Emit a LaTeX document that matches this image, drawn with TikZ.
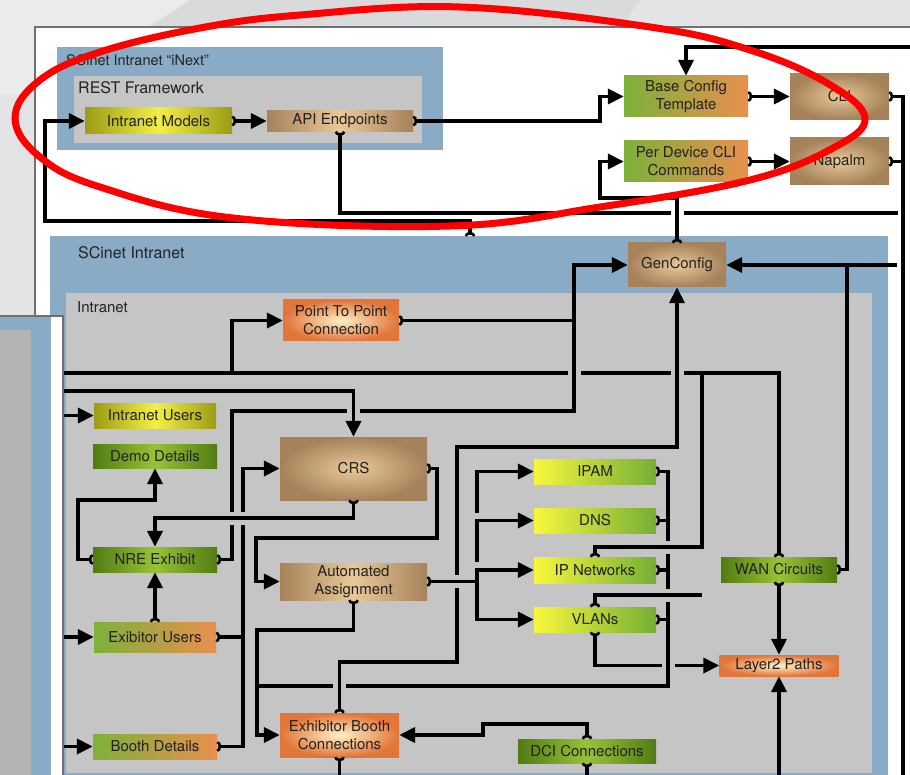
\documentclass[tikz,border=0pt]{standalone}
\usepackage{fontspec}
\setmainfont{TeX Gyre Heros}
\usetikzlibrary{arrows.meta,calc}
\definecolor{bgA}{HTML}{E2E4E6}
\definecolor{bgB}{HTML}{D8DADC}
\definecolor{bgC}{HTML}{EAEBED}
\definecolor{frm}{HTML}{707070}
\definecolor{blu}{HTML}{8AABC6}
\definecolor{gry}{HTML}{C5C5C5}
\definecolor{pgry}{HTML}{B3B3B3}
\definecolor{txt}{HTML}{222222}
\definecolor{yelE}{HTML}{9C9C16}
\definecolor{yelC}{HTML}{F3EF46}
\definecolor{grnE}{HTML}{527C12}
\definecolor{grnC}{HTML}{98C236}
\definecolor{brnE}{HTML}{A5825A}
\definecolor{brnC}{HTML}{E9C898}
\definecolor{orgE}{HTML}{E27539}
\definecolor{orgC}{HTML}{FDF1C6}
\definecolor{goL}{HTML}{7DB13A}
\definecolor{goR}{HTML}{E98F4E}
\definecolor{ygL}{HTML}{F9F73C}
\definecolor{ygR}{HTML}{74AF35}
\definecolor{redl}{HTML}{FF0000}
\newcommand\ndfont{\fontsize{15}{18}\selectfont}
\newcommand\lbfont{\fontsize{16}{19}\selectfont}
\newcommand\lbsfont{\fontsize{14.5}{17}\selectfont}
\newcommand\hgapat[3]{\fill[#3] (#1-6.5,#2-3) rectangle (#1-1.85,#2+3);\fill[#3] (#1+1.85,#2-3) rectangle (#1+6.5,#2+3);}
\newcommand\vgapat[3]{\fill[#3] (#1-3,#2-6.5) rectangle (#1+3,#2-1.85);\fill[#3] (#1-3,#2+1.85) rectangle (#1+3,#2+6.5);}
\tikzset{
  tlx/.tip={Arc Barb[reversed,width=11pt,length=4pt,line width=2.6pt]},
  hdx/.tip={Triangle[length=16pt,width=15pt]},
  box/.style={inner sep=0pt, align=center, font=\ndfont, text=txt},
  yel/.style={left color=yelE, right color=yelE, middle color=yelC},
  grn/.style={left color=grnE, right color=grnE, middle color=grnC},
  brn/.style={left color=brnE, right color=brnE, middle color=brnC},
  brr/.style={inner color=brnC, outer color=brnE},
  org/.style={inner color=orgC, outer color=orgE},
  gor/.style={left color=goL, right color=goR},
  ygr/.style={left color=ygL, right color=ygR},
  lbl/.style={inner sep=0pt, anchor=west, text=txt, font=\lbfont},
  lbls/.style={inner sep=0pt, anchor=west, text=txt, font=\lbsfont},
  conn/.style={line width=3.8pt, draw=black},
  ct/.style={conn, tlx-hdx},
  cto/.style={conn, tlx-},
  ca/.style={conn, -hdx},
}
\begin{document}
\begin{tikzpicture}[x=1pt,y=-1pt]
\useasboundingbox (0,0) rectangle (910,775);
% background
\fill[bgA] (0,0) rectangle (910,775);
\fill[bgC] (0,0) -- (190,0) -- (35,95) -- (0,95) -- cycle;
\fill[bgB] (190,0) -- (640,0) -- (620,27) -- (150,27) -- cycle;
% page
\fill[white] (35,27) rectangle (915,780);
\draw[frm, line width=2] (35,780) -- (35,27) -- (915,27);
% containers
\fill[blu] (57,47) rectangle (443,150);
\fill[gry] (74,76) rectangle (422,143);
\fill[blu] (50,236) rectangle (888,790);
\fill[gry] (66,293) rectangle (872,773);
\node[lbls] (lblA) at (66,60) {SCinet Intranet “iNext”};
\node[lbl] (lblB) at (78,88) {REST Framework};
\node[lbl] (lblC) at (78,252.5) {SCinet Intranet};
\node[lbl, font=\fontsize{15}{18}\selectfont] (lblD) at (77,307) {Intranet};
% nodes
\node[box,yel,minimum width=147,minimum height=26] (im) at (158.5,121) {Intranet Models};
\node[box,brn,minimum width=146,minimum height=21] (api) at (340,121) {API Endpoints};
\node[box,gor,minimum width=124,minimum height=41] (bct) at (686,96.5) {Base Config\\Template};
\node[box,brr,minimum width=99,minimum height=46] (cli) at (839.5,96.5) {CLI};
\node[box,gor,minimum width=124,minimum height=41] (pdc) at (686,161.5) {Per Device CLI\\Commands};
\node[box,brr,minimum width=99,minimum height=47] (nap) at (839.5,161.5) {Napalm};
\node[box,brr,minimum width=98,minimum height=44] (gen) at (677,265) {GenConfig};
\node[box,org,minimum width=116,minimum height=41] (ptp) at (341,320.5) {Point To Point\\Connection};
\node[box,yel,minimum width=122,minimum height=25] (iu) at (155,415.5) {Intranet Users};
\node[box,grn,minimum width=124,minimum height=24] (dd) at (155,456) {Demo Details};
\node[box,brr,minimum width=147,minimum height=63] (crs) at (353.5,468.5) {CRS};
\node[box,ygr,minimum width=122,minimum height=25] (ipam) at (595,471.5) {IPAM};
\node[box,ygr,minimum width=122,minimum height=25] (dns) at (595,520.5) {DNS};
\node[box,ygr,minimum width=122,minimum height=26] (ipn) at (595,570) {IP Networks};
\node[box,ygr,minimum width=122,minimum height=25] (vlan) at (595,619.5) {VLANs};
\node[box,grn,minimum width=124,minimum height=25] (nre) at (155,559.5) {NRE Exhibit};
\node[box,brn,minimum width=147,minimum height=37] (aa) at (353.5,581.5) {Automated\\Assignment};
\node[box,grn,minimum width=116,minimum height=25] (wan) at (779,569.5) {WAN Circuits};
\node[box,gor,minimum width=122,minimum height=30] (eu) at (155,637) {Exibitor Users};
\node[box,org,minimum width=119,minimum height=21] (l2) at (779,665.5) {Layer2 Paths};
\node[box,org,minimum width=119,minimum height=44] (ebc) at (339.5,735) {Exhibitor Booth\\Connections};
\node[box,gor,minimum width=124,minimum height=25] (bd) at (155,746.5) {Booth Details};
\node[box,grn,minimum width=138,minimum height=24] (dci) at (587,751) {DCI Connections};
% free ends
\coordinate (scitop) at (470,236);
\coordinate (topR) at (910,47);
\coordinate (midR) at (898,213);
\coordinate (genR) at (910,265);
\coordinate (cliBot) at (903,780);
\coordinate (lpA) at (63,373);
\coordinate (lpB) at (63,391);
\coordinate (lpC) at (63,415.5);
\coordinate (lpD) at (63,637);
\coordinate (lpE) at (63,746.5);
\coordinate (l2B) at (779,780);
\coordinate (ebcB) at (339.5,780);
\coordinate (dciB) at (587,780);
\coordinate (j1) at (232,373);
\coordinate (cx) at (668,0);
% connectors: top
\draw[ct] (im.east) -- (api.west);
\draw[ct] (api.east) -| ($(bct.west)+(-24,0)$) -- (bct.west);
\draw[ct] (gen.north) |- (600,198) |- (pdc.west);
\draw[ct] (bct.east) -- (cli.west);
\draw[ct] (pdc.east) -- (nap.west);
\draw[cto] (cli.east) -| (cliBot);
\draw[cto] (nap.east) -- (nap.east -| cliBot);
\draw[ca] (topR) -| (bct.north);
\draw[cto] (api.south) |- (midR);
\draw[ct] (scitop) |- (45,221) |- (im.west);
% GenConfig inputs
\draw[ct] (ptp.east) -| ($(gen.west)+(-54,0)$) -- (gen.west);
\draw[cto] (nre.east) -| (232,411) -| (574,320.5);
\draw[ca] (genR) -- (gen.east);
\draw[cto] (wan.east) -| (847,265);
\draw[ct] (ebc.north) |- (457,662) |- (gen.south |- 0,447) -- (gen.south);
% buses from the left
\draw[cto] (wan.north) |- (lpA);
\draw[ca] (j1) |- (ptp.west);
\draw[cto] (ipn.north) |- (702,547) -- (702,373);
\draw[cto] (vlan.north) |- (702,595);
\draw[ca] (lpB) -| (crs.north);
\draw[ca] (lpC) -- (iu.west);
\draw[ca] (lpD) -- (eu.west);
\draw[ca] (lpE) -- (bd.west);
% left group
\draw[ct] (nre.west) -| (78,500) -| (dd.south);
\draw[ct] (crs.south) -- ++(0,18) -| (nre.north);
\draw[ct] (eu.north) -- (nre.south);
\draw[ct] (bd.east) -| ($(crs.west)+(-37,0)$) -- (crs.west);
\draw[cto] (eu.east) -- (eu.east -| 243,0);
\draw[ct] (crs.east) -| (437,538) -| ($(aa.west)+(-24,0)$) -- (aa.west);
\draw[ct] (aa.south) |- (257,630) |- (ebc.west);
% address block
\draw[cto] (ipam.east) -| (668,686) -- (257,686);
\draw[cto] (dns.east) -- (dns.east -| cx);
\draw[cto] (ipn.east) -- (ipn.east -| cx);
\draw[cto] (vlan.east) -- (vlan.east -| cx);
\draw[ct] (aa.east) -| (477,570) -- (ipn.west);
\draw[ca] (477,581.5) |- (vlan.west);
\draw[ca] (477,562) |- (dns.west);
\draw[ca] (477,513) |- (ipam.west);
\draw[ct] (vlan.south) |- (l2.west);
\draw[ct] (wan.south) -- (l2.north);
\draw[ca] (l2B) -- (l2.south);
\draw[ct] (dci.north) |- (483,724) |- (ebc.east);
\draw[cto] (ebc.south) -- (ebcB);
\draw[cto] (dci.south) -- (dciB);
% line jumps
\hgapat{574}{373}{gry}
\hgapat{677}{373}{gry}
\hgapat{353.5}{411}{gry}
\vgapat{232}{518}{gry}
\vgapat{243}{518}{gry}
\vgapat{457}{581.5}{gry}
\hgapat{339.5}{686}{gry}
\vgapat{668}{547}{gry}
\vgapat{668}{595}{gry}
\hgapat{668}{665.5}{gry}
\hgapat{677}{213}{white}
\hgapat{903}{265}{white}
% left overlay panel
\fill[white] (-2,316) rectangle (63,780);
\fill[blu] (-2,317) rectangle (51,780);
\fill[pgry] (-2,330) rectangle (31,780);
\draw[frm, line width=1.5] (-2,316) -- (63,316) -- (63,780);
% red annotation
\draw[redl, line width=7] plot[smooth cycle, tension=0.65] coordinates {(15,118) (40,80) (100,52) (200,28) (300,15) (460,7) (650,27) (750,50) (827,83) (865,118) (833,148) (750,180) (600,207) (450,226) (233,218) (100,187) (40,157)};
\end{tikzpicture}
\end{document}
